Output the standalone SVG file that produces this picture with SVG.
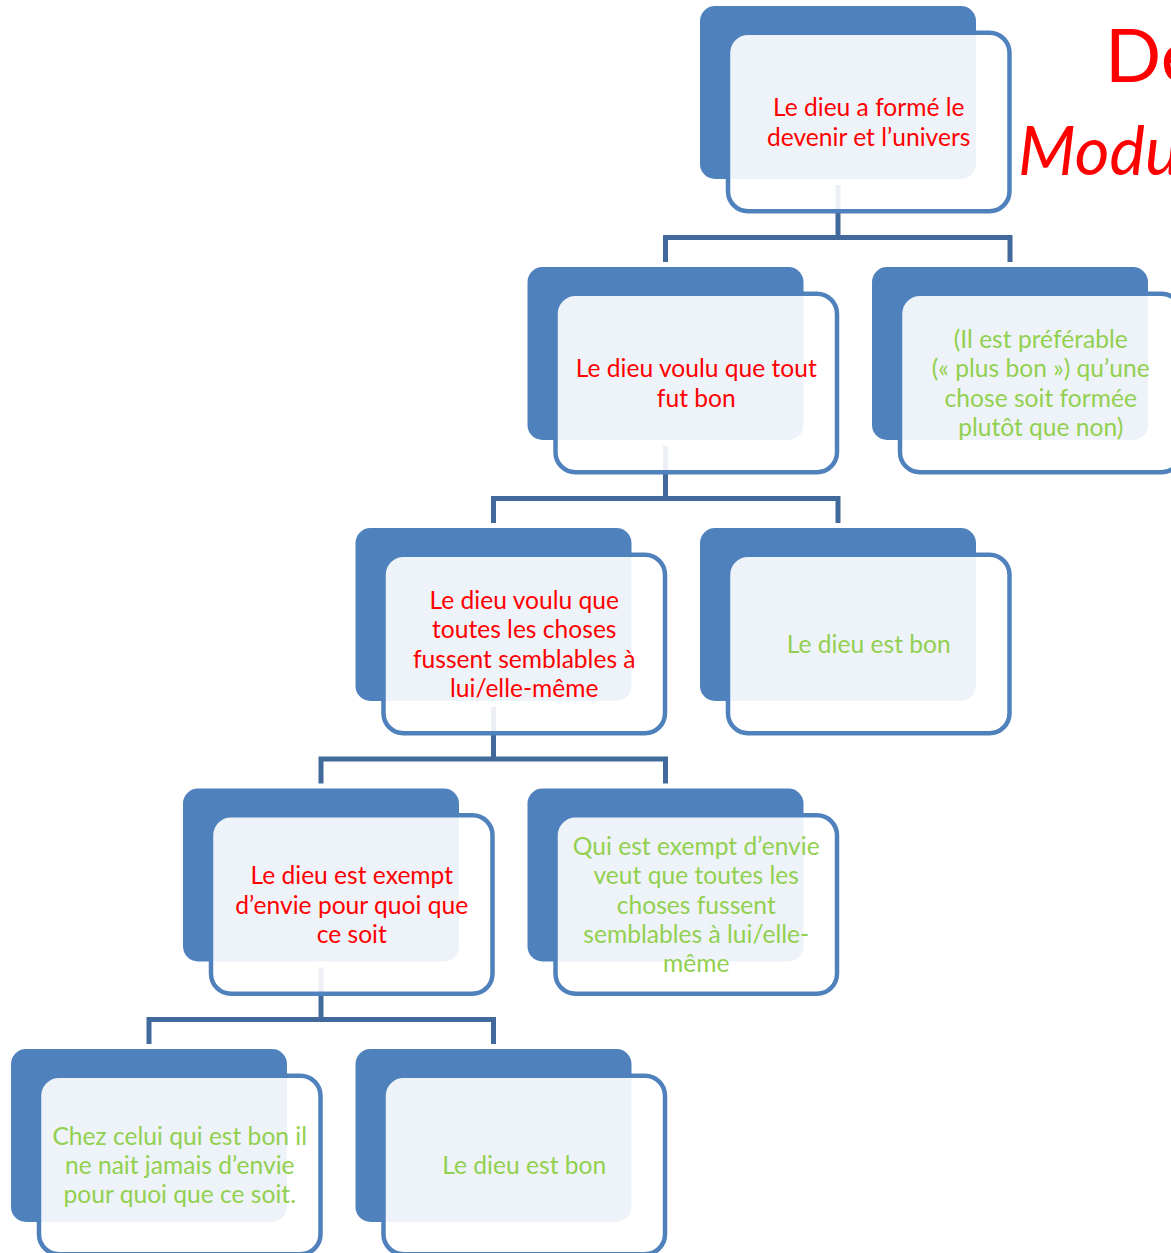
<svg xmlns="http://www.w3.org/2000/svg" width="1171" height="1253" viewBox="0 0 1171 1253">
  <style>
    .back { fill: #4F81BD; }
    .front { fill: #FFFFFF; fill-opacity: 0.9; stroke: #4F81BD; stroke-width: 4.5; }
    .link { fill: none; stroke: #41699C; stroke-width: 5; stroke-linejoin: miter; }
    .label { font-family: Lato, "Open Sans", "Liberation Sans", sans-serif; font-size: 24.6px; text-anchor: middle; }
    .red { fill: #FF0000; }
    .green { fill: #92D050; }
    .title { font-family: Lato, "Open Sans", "Liberation Sans", sans-serif; fill: #FF0000; }
  </style>
  <defs>
    <!-- shared two-layer card: solid blue block behind a translucent framed panel -->
    <rect id="cardBack" class="back" x="0" y="0" width="276" height="173" rx="15"/>
    <rect id="cardFront" class="front" x="28" y="26.7" width="281.5" height="178.5" rx="20"/>
  </defs>

  <!-- title, partly off the right edge -->
  <g id="title">
    <text class="title" x="1105" y="82" font-size="74">De</text>
    <text class="title" x="1018" y="175" font-size="67" font-style="italic">Modu</text>
  </g>

  <!-- elbow connectors between levels -->
  <g id="connectors">
    <path class="link" d="M838 185 V237.5 M665.5 262 V237.5 H1010 V262"/>
    <path class="link" d="M665.5 446 V498.5 M493.5 523 V498.5 H838 V523"/>
    <path class="link" d="M493.5 707 V759 M321 783.5 V759 H665.5 V783.5"/>
    <path class="link" d="M321 967.5 V1019.5 M149 1044 V1019.5 H493.5 V1044"/>
  </g>

  <g id="n1" transform="translate(700 6)">
    <use href="#cardBack"/><use href="#cardFront"/>
    <text class="label red"><tspan x="168.75" y="110.4">Le dieu a formé le</tspan><tspan x="168.75" y="139.7">devenir et l’univers</tspan></text>
  </g>

  <g id="n2" transform="translate(527.5 267)">
    <use href="#cardBack"/><use href="#cardFront"/>
    <text class="label red"><tspan x="168.75" y="110.4">Le dieu voulu que tout</tspan><tspan x="168.75" y="139.7">fut bon</tspan></text>
  </g>

  <g id="n2b" transform="translate(872 267)">
    <use href="#cardBack"/><use href="#cardFront"/>
    <text class="label green"><tspan x="168.75" y="81.1">(Il est préférable</tspan><tspan x="168.75" y="110.4">(« plus bon ») qu’une</tspan><tspan x="168.75" y="139.7">chose soit formée</tspan><tspan x="168.75" y="169">plutôt que non)</tspan></text>
  </g>

  <g id="n3" transform="translate(355.5 528)">
    <use href="#cardBack"/><use href="#cardFront"/>
    <text class="label red"><tspan x="168.75" y="81.1">Le dieu voulu que</tspan><tspan x="168.75" y="110.4">toutes les choses</tspan><tspan x="168.75" y="139.7">fussent semblables à</tspan><tspan x="168.75" y="169">lui/elle-même</tspan></text>
  </g>

  <g id="n3b" transform="translate(700 528)">
    <use href="#cardBack"/><use href="#cardFront"/>
    <text class="label green"><tspan x="168.75" y="125">Le dieu est bon</tspan></text>
  </g>

  <g id="n4" transform="translate(183 788.5)">
    <use href="#cardBack"/><use href="#cardFront"/>
    <text class="label red"><tspan x="168.75" y="95.7">Le dieu est exempt</tspan><tspan x="168.75" y="125">d’envie pour quoi que</tspan><tspan x="168.75" y="154.3">ce soit</tspan></text>
  </g>

  <g id="n4b" transform="translate(527.5 788.5)">
    <use href="#cardBack"/><use href="#cardFront"/>
    <text class="label green"><tspan x="168.75" y="66.4">Qui est exempt d’envie</tspan><tspan x="168.75" y="95.7">veut que toutes les</tspan><tspan x="168.75" y="125">choses fussent</tspan><tspan x="168.75" y="154.3">semblables à lui/elle-</tspan><tspan x="168.75" y="183.6">même</tspan></text>
  </g>

  <g id="n5" transform="translate(11 1049)">
    <use href="#cardBack"/><use href="#cardFront"/>
    <text class="label green"><tspan x="168.75" y="95.7">Chez celui qui est bon il</tspan><tspan x="168.75" y="125">ne nait jamais d’envie</tspan><tspan x="168.75" y="154.3">pour quoi que ce soit.</tspan></text>
  </g>

  <g id="n5b" transform="translate(355.5 1049)">
    <use href="#cardBack"/><use href="#cardFront"/>
    <text class="label green"><tspan x="168.75" y="125">Le dieu est bon</tspan></text>
  </g>
</svg>
